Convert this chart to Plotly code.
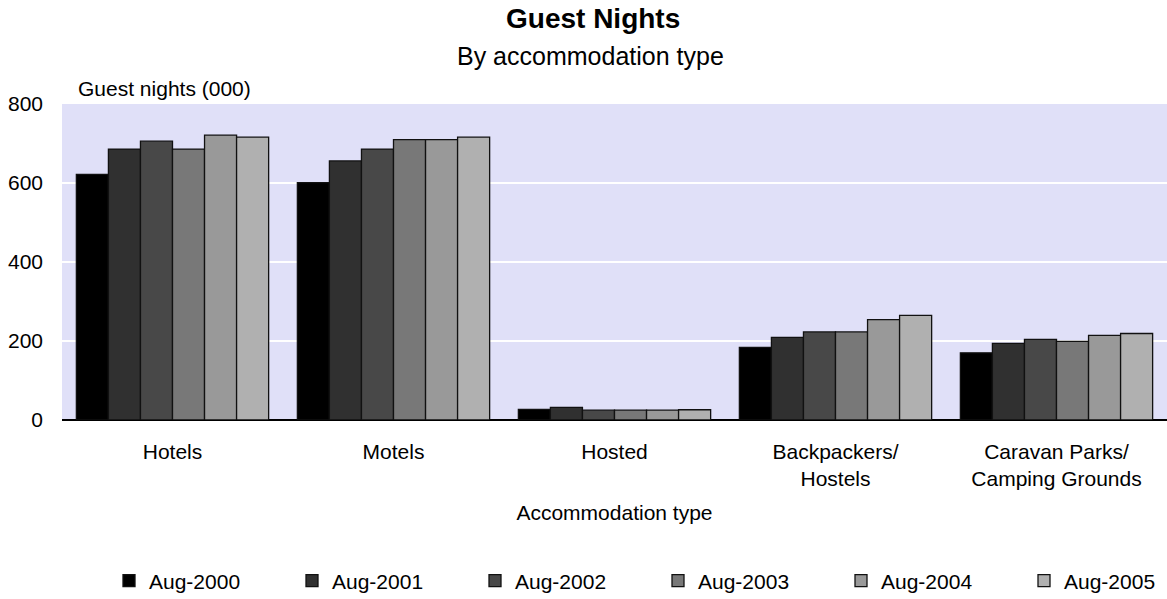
import plotly.graph_objects as go

categories = ["Hotels", "Motels", "Hosted", "Backpackers/<br>Hostels", "Caravan Parks/<br>Camping Grounds"]
series_names = ["Aug-2000", "Aug-2001", "Aug-2002", "Aug-2003", "Aug-2004", "Aug-2005"]
aug_2000 = [622, 601, 27, 184, 170]
aug_2001 = [686, 656, 32, 209, 194]
aug_2002 = [706, 686, 25, 223, 204]
aug_2003 = [686, 710, 25, 223, 199]
aug_2004 = [721, 710, 25, 254, 214]
aug_2005 = [716, 716, 26, 265, 219]
series_values = [aug_2000, aug_2001, aug_2002, aug_2003, aug_2004, aug_2005]
colors = ["#000000", "#303030", "#484848", "#787878", "#999999", "#b0b0b0"]
y_ticks = [0, 200, 400, 600, 800]

FONT = "Liberation Sans, Arial, sans-serif"
FS = 21
W, H = 1167, 599
ML, MR, MT, MB = 62, 0, 104, 179
PH = H - MT - MB
PW = W - ML - MR

def py(px):
    return 1 - (px - MT) / PH

def pxr(px):
    return (px - ML) / PW

fig = go.Figure()
for name, vals, col in zip(series_names, series_values, colors):
    fig.add_trace(go.Bar(
        x=categories, y=vals, name=name,
        marker=dict(color=col, line=dict(color="#111111", width=1.3)),
    ))

fig.update_layout(
    width=W, height=H,
    margin=dict(l=ML, r=MR, t=MT, b=MB),
    paper_bgcolor="white",
    plot_bgcolor="#e0e0f8",
    barmode="group",
    bargap=0.13,
    bargroupgap=0,
    font=dict(family=FONT, size=FS, color="#000000"),
    showlegend=True,
    legend=dict(
        orientation="h",
        xref="container", yref="container",
        x=109 / W, xanchor="left",
        y=1 - 581 / H, yanchor="middle",
        entrywidth=138, entrywidthmode="pixels",
        font=dict(family=FONT, size=FS),
        itemwidth=30,
        tracegroupgap=0,
    ),
    xaxis=dict(
        showgrid=False, showline=False, ticks="",
        tickfont=dict(family=FONT, size=FS),
        ticklabelstandoff=17,
        title=dict(text="Accommodation type", font=dict(family=FONT, size=FS), standoff=16),
        fixedrange=True,
    ),
    yaxis=dict(
        range=[0, 800], tickvals=y_ticks,
        showgrid=True, gridcolor="#ffffff", gridwidth=1.5,
        zeroline=True, zerolinecolor="#000000", zerolinewidth=2,
        showline=False, ticks="",
        tickfont=dict(family=FONT, size=FS),
        ticklabelstandoff=18,
        fixedrange=True,
    ),
    annotations=[
        dict(text="<b>Guest Nights</b>", xref="paper", yref="paper",
             x=pxr(593), y=py(19), xanchor="center", yanchor="middle",
             showarrow=False, font=dict(family=FONT, size=28)),
        dict(text="By accommodation type", xref="paper", yref="paper",
             x=pxr(590), y=py(56), xanchor="center", yanchor="middle",
             showarrow=False, font=dict(family=FONT, size=25)),
        dict(text="Guest nights (000)", xref="paper", yref="paper",
             x=pxr(76), y=py(89), xanchor="left", yanchor="middle",
             showarrow=False, font=dict(family=FONT, size=FS)),
    ],
)

fig.write_html("out.html")
